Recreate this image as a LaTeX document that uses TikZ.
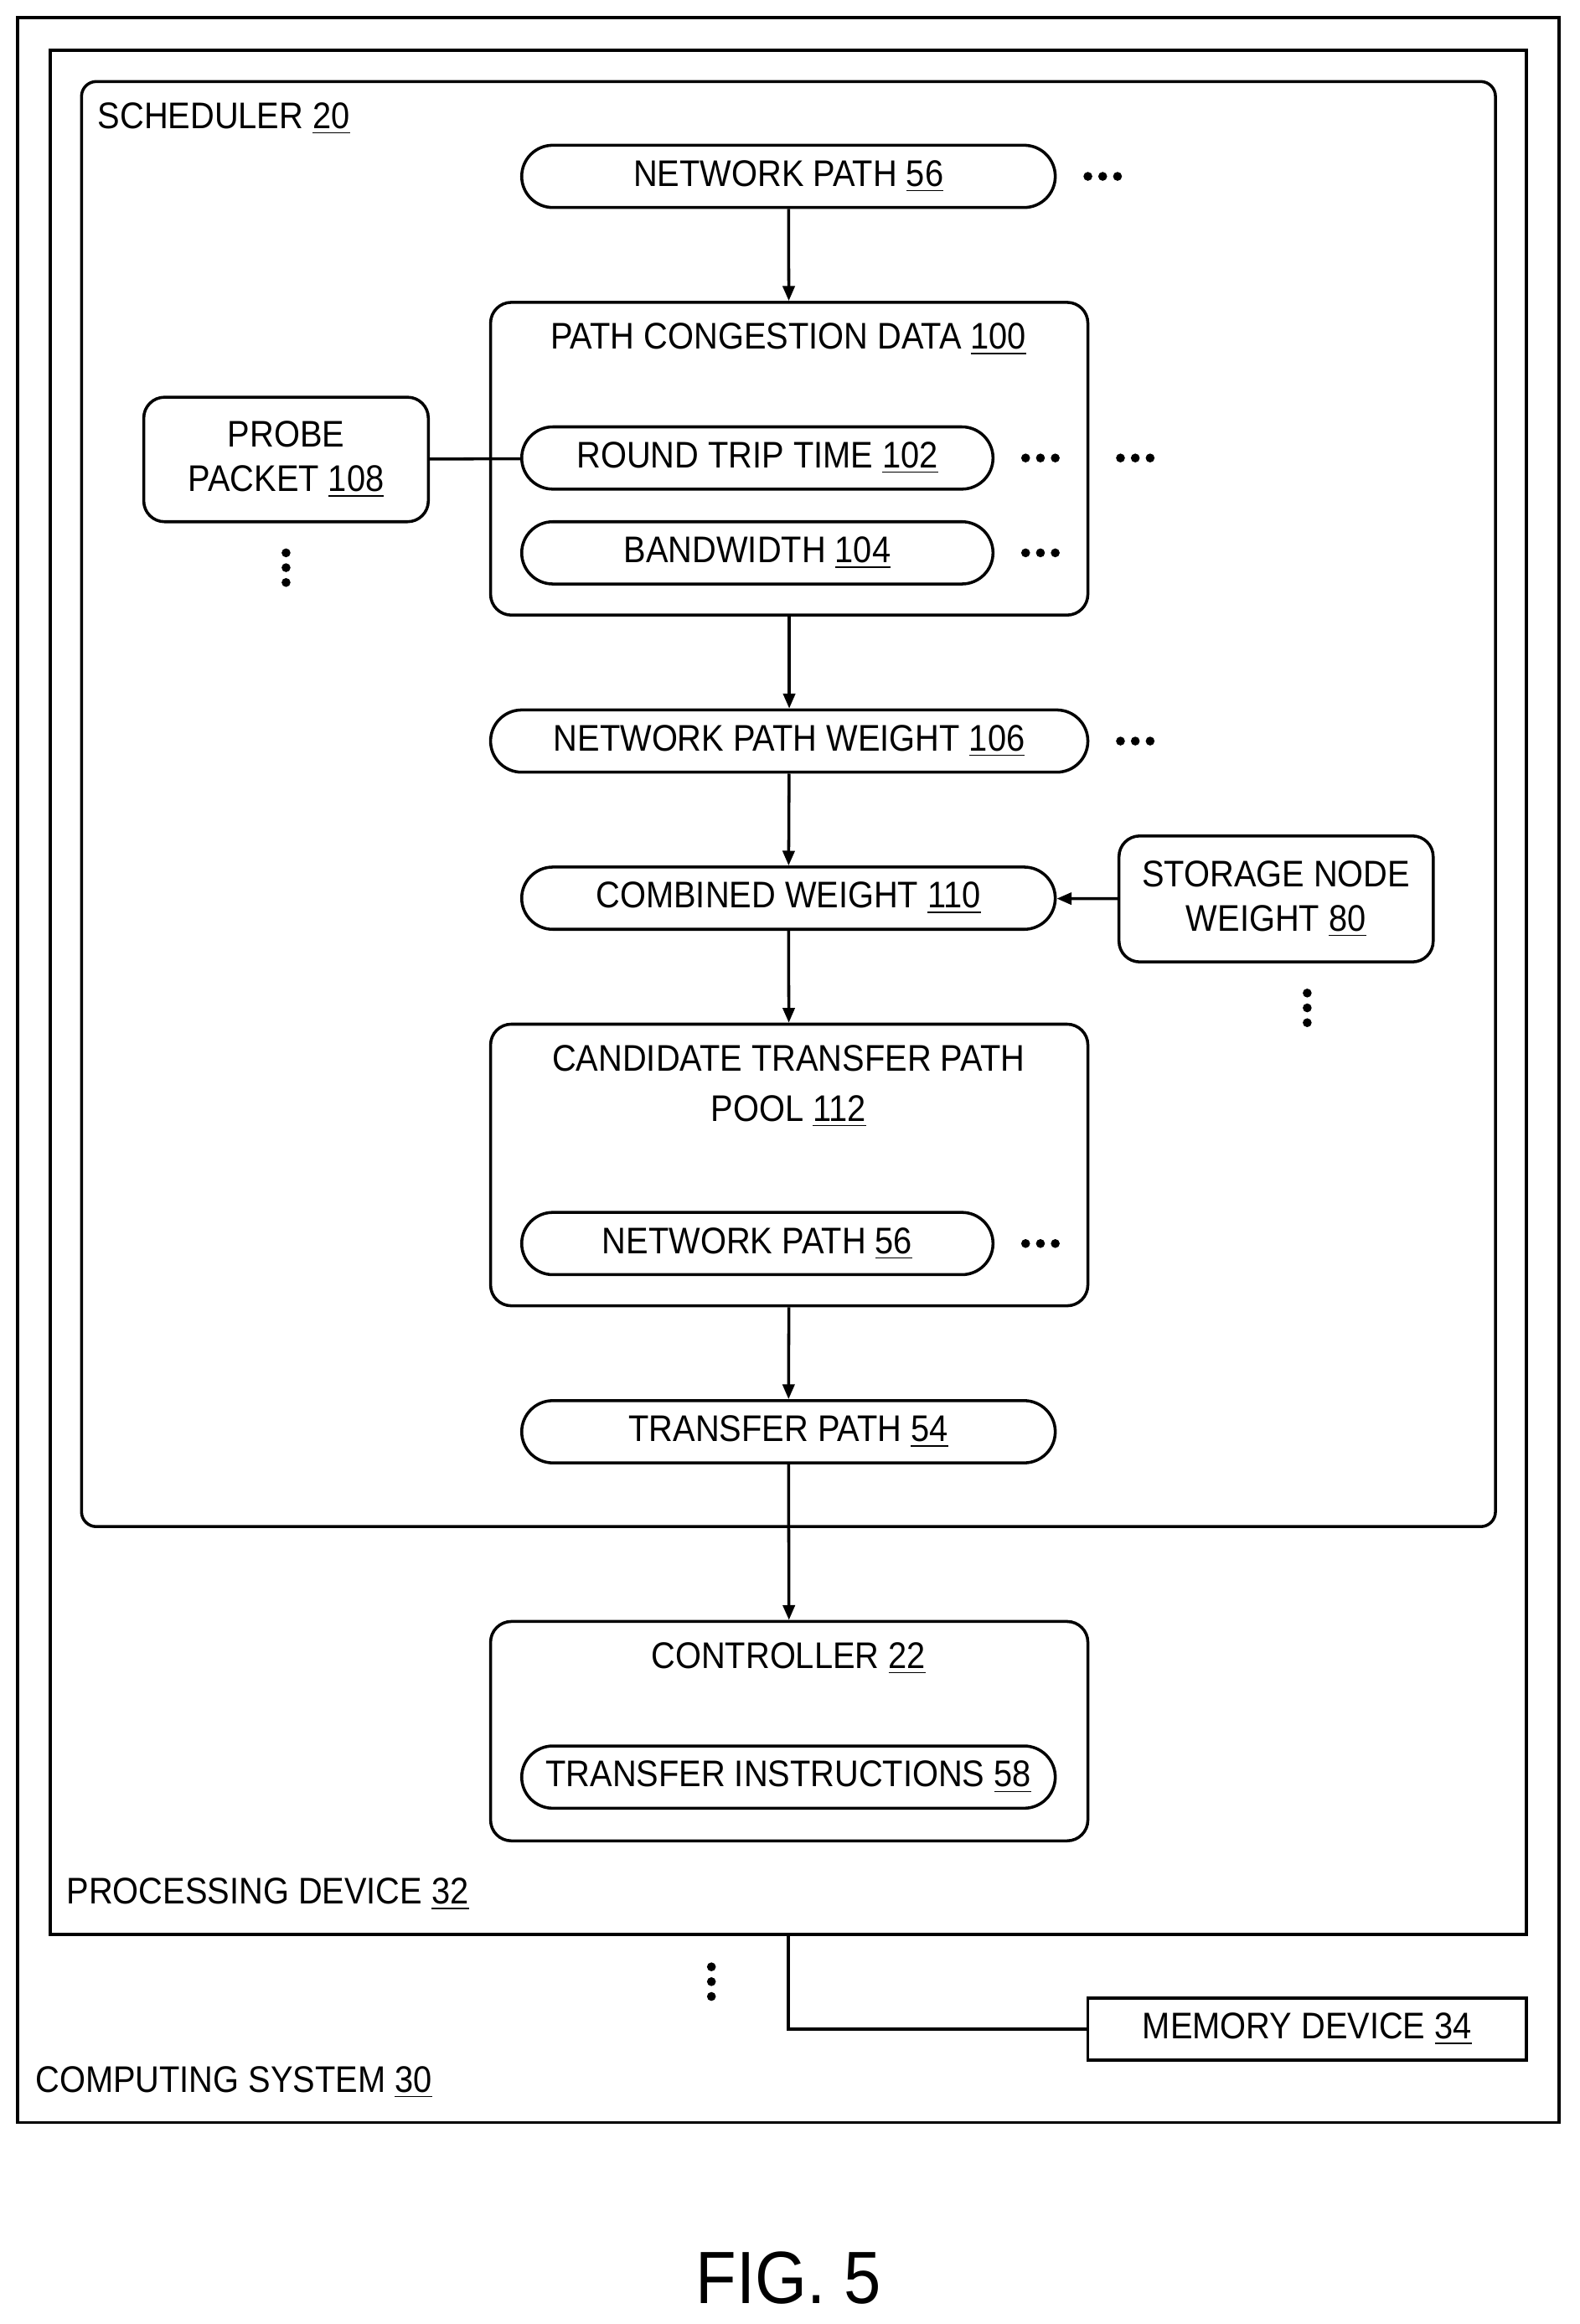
\documentclass[tikz,border=0pt]{standalone}
\usepackage{fontspec}
\setmainfont{Liberation Sans}[FakeStretch=0.9]
\usetikzlibrary{arrows.meta}
\begin{document}
\begin{tikzpicture}[x=0.5pt,y=-0.5pt,line width=1pt,
  every node/.style={font=\fontsize{12.5}{15}\selectfont,inner sep=0pt},
  pill/.style={draw,rounded corners=10.5pt,minimum height=21pt},
  rbox/.style={draw,rounded corners=7pt},
  sbox/.style={draw},
  lbl/.style={anchor=west},
  arr/.style={-{Triangle[length=5pt,width=4pt]}},
  dot/.style={circle,fill,minimum size=3pt}]
\useasboundingbox (0,0) rectangle (1066,1568);
% containers
\node[sbox,minimum width=520pt,minimum height=710pt] (cs) at (532,722) {};
\node[sbox,minimum width=498pt,minimum height=635.5pt] (pd) at (532,669.5) {};
\node[rbox,minimum width=477pt,minimum height=487.5pt,rounded corners=5pt] (sch) at (532,542.5) {};
\node[lbl] (schl) at (65,80) {SCHEDULER \underline{20}};
\node[lbl] (pdl) at (44,1278) {PROCESSING DEVICE \underline{32}};
\node[lbl] (csl) at (23,1405) {COMPUTING SYSTEM \underline{30}};
% network path
\node[pill,minimum width=180pt] (np) at (532,119) {NETWORK PATH \underline{56}};
% path congestion
\node[rbox,minimum width=201.5pt,minimum height=105.5pt] (pcd) at (532.5,309.5) {};
\node (pcdl) at (532,229) {PATH CONGESTION DATA \underline{100}};
\node[pill,minimum width=159pt] (rtt) at (511,309) {ROUND TRIP TIME \underline{102}};
\node[pill,minimum width=159pt] (bw) at (511,373) {BANDWIDTH \underline{104}};
\node[rbox,minimum width=96pt,minimum height=42pt,align=center] (pp) at (193,310) {PROBE\\PACKET \underline{108}};
\node[pill,minimum width=201.5pt] (npw) at (532.5,500) {NETWORK PATH WEIGHT \underline{106}};
\node[pill,minimum width=180pt] (cw) at (532,606) {COMBINED WEIGHT \underline{110}};
\node[rbox,minimum width=106pt,minimum height=42.5pt,align=center] (snw) at (861,606.5) {STORAGE NODE\\WEIGHT \underline{80}};
\node[rbox,minimum width=201.5pt,minimum height=95pt] (ctp) at (532.5,786) {};
\node[align=center] (ctpl) at (532,733) {CANDIDATE TRANSFER PATH\\[2pt]POOL \underline{112}};
\node[pill,minimum width=159pt] (np2) at (511,839) {NETWORK PATH \underline{56}};
\node[pill,minimum width=180pt] (tp) at (532,966) {TRANSFER PATH \underline{54}};
\node[rbox,minimum width=201.5pt,minimum height=74pt] (ctl) at (532.5,1168) {};
\node (ctll) at (532,1119) {CONTROLLER \underline{22}};
\node[pill,minimum width=180pt] (ti) at (532,1199) {TRANSFER INSTRUCTIONS \underline{58}};
\node[sbox,minimum width=148pt,minimum height=21pt] (mem) at (882,1369) {MEMORY DEVICE \underline{34}};
\node[font=\fontsize{25}{30}\selectfont] (fig) at (532,1537) {FIG. 5};
% connectors
\draw[arr] (np) -- (pcd);
\draw[arr] (pcd) -- (npw);
\draw[arr] (npw) -- (cw);
\draw[arr] (cw) -- (ctp);
\draw[arr] (ctp) -- (tp);
\draw[arr] (tp) -- (ctl);
\draw[arr] (snw) -- (cw);
\draw (pp) -- (rtt);
\coordinate (pdb) at (532,1305);
\draw (pdb) |- (mem.west);
% dots
\foreach \x/\y in {744/119,702/309,766/309,702/373,766/500,702/839}{
  \foreach \d in {-10,0,10} \node[dot] at (\x+\d,\y) {};}
\foreach \x/\y in {193/383,882/680,480/1337}{
  \foreach \d in {-10,0,10} \node[dot] at (\x,\y+\d) {};}
\end{tikzpicture}
\end{document}
